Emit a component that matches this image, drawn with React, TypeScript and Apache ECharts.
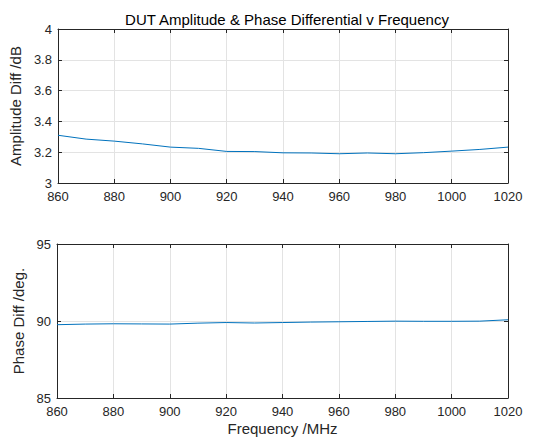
import React, { useEffect, useRef } from "react";
import * as echarts from "echarts";

const frequencies = [860, 870, 880, 890, 900, 910, 920, 930, 940, 950, 960, 970, 980, 990, 1000, 1010, 1020];
const amplitudeDiff = [3.31, 3.285, 3.272, 3.254, 3.233, 3.225, 3.205, 3.204, 3.196, 3.195, 3.19, 3.195, 3.19, 3.197, 3.207, 3.218, 3.233];
const phaseDiff = [89.76, 89.8, 89.82, 89.81, 89.8, 89.86, 89.9, 89.87, 89.9, 89.93, 89.95, 89.97, 89.99, 89.98, 89.98, 89.99, 90.08];

const FONT = "Liberation Sans, Arial, Helvetica, sans-serif";
const AX = "#262626";
const GRIDC = "#e3e3e3";
const LINE = "#0072BD";

export default function App() {
  const ref = useRef<HTMLDivElement>(null);
  useEffect(() => {
    if (!ref.current) return;
    const chart = echarts.init(ref.current, undefined, { renderer: "svg" });
    const labelStyle = { color: AX, fontFamily: FONT, fontSize: 13 };
    const mkX = (gridIndex: number, main: boolean) => ({
      type: "value" as const,
      gridIndex,
      min: 860,
      max: 1020,
      interval: 20,
      position: main ? ("bottom" as const) : ("top" as const),
      axisLine: { show: true, onZero: false, lineStyle: { color: AX, width: 1 } },
      axisTick: { show: true, inside: true, length: 4, lineStyle: { color: AX } },
      axisLabel: main ? { ...labelStyle, margin: 7, formatter: (v: number) => String(v) } : { show: false },
      splitLine: main ? { show: true, lineStyle: { color: GRIDC, width: 1 } } : { show: false },
      name: main && gridIndex === 1 ? "Frequency /MHz" : "",
      nameLocation: "middle" as const,
      nameGap: 23,
      nameTextStyle: { color: AX, fontFamily: FONT, fontSize: 15 },
    });
    const mkY = (gridIndex: number, main: boolean, min: number, max: number, interval: number, name: string, gap: number) => ({
      type: "value" as const,
      gridIndex,
      min,
      max,
      interval,
      position: main ? ("left" as const) : ("right" as const),
      axisLine: { show: true, onZero: false, lineStyle: { color: AX, width: 1 } },
      axisTick: { show: true, inside: true, length: 4, lineStyle: { color: AX } },
      axisLabel: main ? { ...labelStyle, margin: 6 } : { show: false },
      splitLine: main ? { show: true, lineStyle: { color: GRIDC, width: 1 } } : { show: false },
      name: main ? name : "",
      nameLocation: "middle" as const,
      nameGap: gap,
      nameTextStyle: { color: AX, fontFamily: FONT, fontSize: 15 },
    });
    chart.setOption({
      animation: false,
      backgroundColor: "#ffffff",
      title: {
        text: "DUT Amplitude & Phase Differential v Frequency",
        left: 282,
        textAlign: "center",
        top: 7,
        textStyle: { color: "#000", fontFamily: FONT, fontSize: 15, fontWeight: "normal" },
      },
      grid: [
        { left: 57, top: 29, width: 451, height: 154 },
        { left: 57, top: 244, width: 451, height: 155 },
      ],
      xAxis: [mkX(0, true), mkX(0, false), mkX(1, true), mkX(1, false)],
      yAxis: [
        mkY(0, true, 3, 4, 0.2, "Amplitude Diff /dB", 31),
        mkY(0, false, 3, 4, 0.2, "", 0),
        mkY(1, true, 85, 95, 5, "Phase Diff /deg.", 26),
        mkY(1, false, 85, 95, 5, "", 0),
      ],
      series: [
        {
          type: "line",
          xAxisIndex: 0,
          yAxisIndex: 0,
          data: frequencies.map((f, i) => [f, amplitudeDiff[i]]),
          showSymbol: false,
          lineStyle: { color: LINE, width: 1 },
        },
        {
          type: "line",
          xAxisIndex: 2,
          yAxisIndex: 2,
          data: frequencies.map((f, i) => [f, phaseDiff[i]]),
          showSymbol: false,
          lineStyle: { color: LINE, width: 1 },
        },
      ],
    });
    return () => chart.dispose();
  }, []);
  return <div ref={ref} style={{ position: "fixed", left: 0, top: 0, width: 543, height: 437 }} />;
}
